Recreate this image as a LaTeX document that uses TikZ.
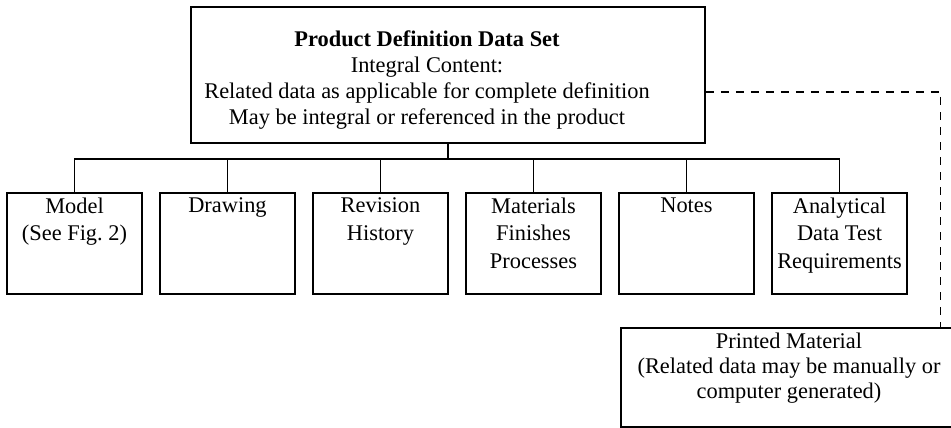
\documentclass[tikz,border=0pt]{standalone}
\usepackage{fontspec}
\setmainfont{Liberation Serif}
\begin{document}
\begin{tikzpicture}[x=1pt, y=-1pt, line width=1.6pt, line join=miter,
	font=\fontsize{22.4}{27.5}\selectfont,
	topbox/.style={draw, inner sep=3pt},
	partbox/.style={draw, anchor=north, inner sep=5pt},
	link/.style={dashed, dash pattern=on 8pt off 7pt, line width=1.2pt}]
	\useasboundingbox (0,0) rectangle (951,428);
	% top box
	\node[topbox] (pdds) at (448,75) {\fontsize{22.4}{26}\selectfont\parbox[c][130pt][c]{466pt}{\centering\vspace*{10pt}{\bfseries Product Definition Data Set}\\Integral Content:\\Related data as applicable for complete definition\\May be integral or referenced in the product}\hspace*{42pt}};
	\coordinate (bus) at (0,159);
	% parts
	\node[partbox] (model) at (74.5,192) {\parbox[t][91pt][t]{125pt}{\centering Model\\(See Fig.~2)}};
	\node[partbox] (drawing) at (227.5,192) {\parbox[t][91pt][t]{125pt}{\centering Drawing}};
	\node[partbox] (revision) at (380.5,192) {\parbox[t][91pt][t]{125pt}{\centering Revision\\History}};
	\node[partbox] (materials) at (533.5,192) {\parbox[t][91pt][t]{125pt}{\centering Materials\\Finishes\\Processes}};
	\node[partbox] (notes) at (686.5,192) {\parbox[t][91pt][t]{125pt}{\centering Notes}};
	\node[partbox] (analytical) at (839.5,192) {\parbox[t][91pt][t]{125pt}{\centering Analytical\\Data Test\\Requirements}};
	\node[partbox] (printed) at (789,327) {\fontsize{22.4}{25}\selectfont\parbox[t][89pt][t]{326pt}{\centering Printed Material\\(Related data may be manually or\\computer generated)}};
	% tree
	\draw (pdds.south) -- (pdds.south |- bus);
	\draw (model.north) |- (analytical.north |- bus) -- (analytical.north);
	\foreach \p in {drawing, revision, materials, notes}
		\draw (\p.north) -- (\p.north |- bus);
	\draw[link] ([yshift=-17pt]pdds.east) -| ([xshift=-17pt]printed.north east);
\end{tikzpicture}
\end{document}
